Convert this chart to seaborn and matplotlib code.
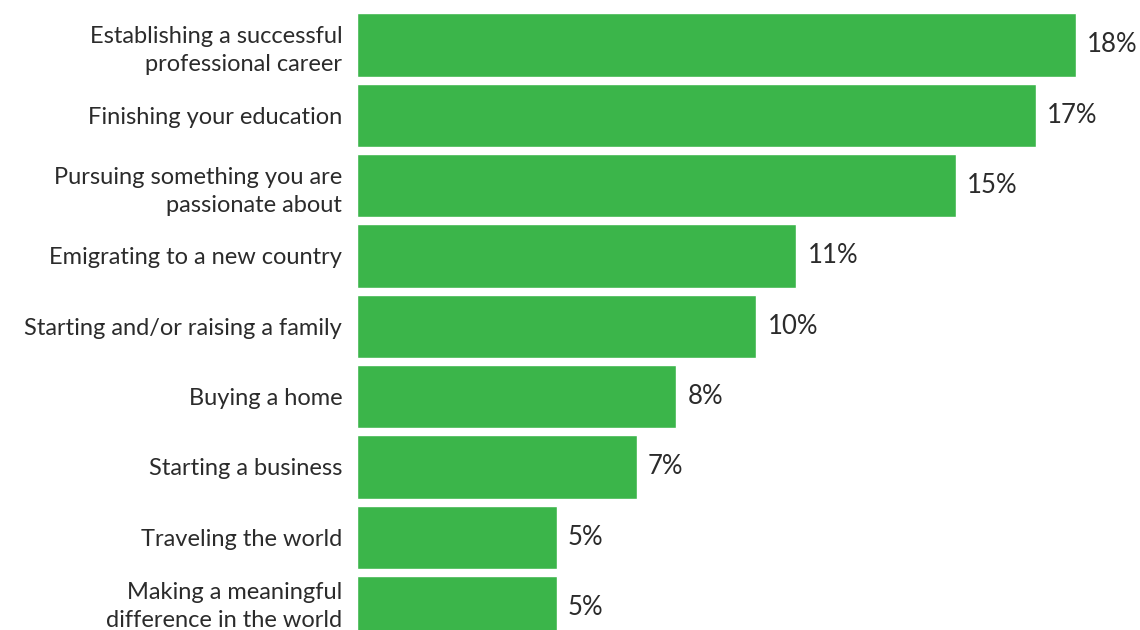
import matplotlib
matplotlib.use("Agg")
import matplotlib.pyplot as plt
import matplotlib.transforms as mtransforms
import seaborn as sns
import pandas as pd

# data
goals = [
    "Establishing a successful\nprofessional career",
    "Finishing your education",
    "Pursuing something you are\npassionate about",
    "Emigrating to a new country",
    "Starting and/or raising a family",
    "Buying a home",
    "Starting a business",
    "Traveling the world",
    "Making a meaningful\ndifference in the world",
]
shares = [18, 17, 15, 11, 10, 8, 7, 5, 5]
share_labels = ["18%", "17%", "15%", "11%", "10%", "8%", "7%", "5%", "5%"]

df = pd.DataFrame({"goal": goals, "share": shares})

sns.set_style("white")
plt.rcParams["font.family"] = ["Lato", "DejaVu Sans"]

fig = plt.figure(figsize=(11.4, 6.3), dpi=100)
ax = fig.add_axes([0.313, 0.0, 0.687, 1.0])

sns.barplot(data=df, x="share", y="goal", color="#3bb54a", width=0.9,
            saturation=1, ax=ax)

ax.set_xlim(0, 19.6)
ax.set_ylim(8.32, -0.64)
ax.set_xlabel("")
ax.set_ylabel("")
ax.set_xticks([])
ax.tick_params(axis="y", length=0, pad=10.5, labelsize=17, labelcolor="#2b2b2b")
labels = ax.get_yticklabels()
for lab in labels:
    lab.set_linespacing(1.42)
# last label sits at the bottom edge, lift it a little so it stays visible
labels[-1].set_transform(labels[-1].get_transform()
                         + mtransforms.ScaledTranslation(0, 5 / 72, fig.dpi_scale_trans))
for s in ax.spines.values():
    s.set_visible(False)

for bar, txt in zip(ax.patches, share_labels):
    ax.annotate(txt, (bar.get_width(), bar.get_y() + bar.get_height() / 2),
                xytext=(8, 0), textcoords="offset points", va="center",
                ha="left", fontsize=18.5, color="#2b2b2b")

fig.savefig("out.png", dpi=100)
